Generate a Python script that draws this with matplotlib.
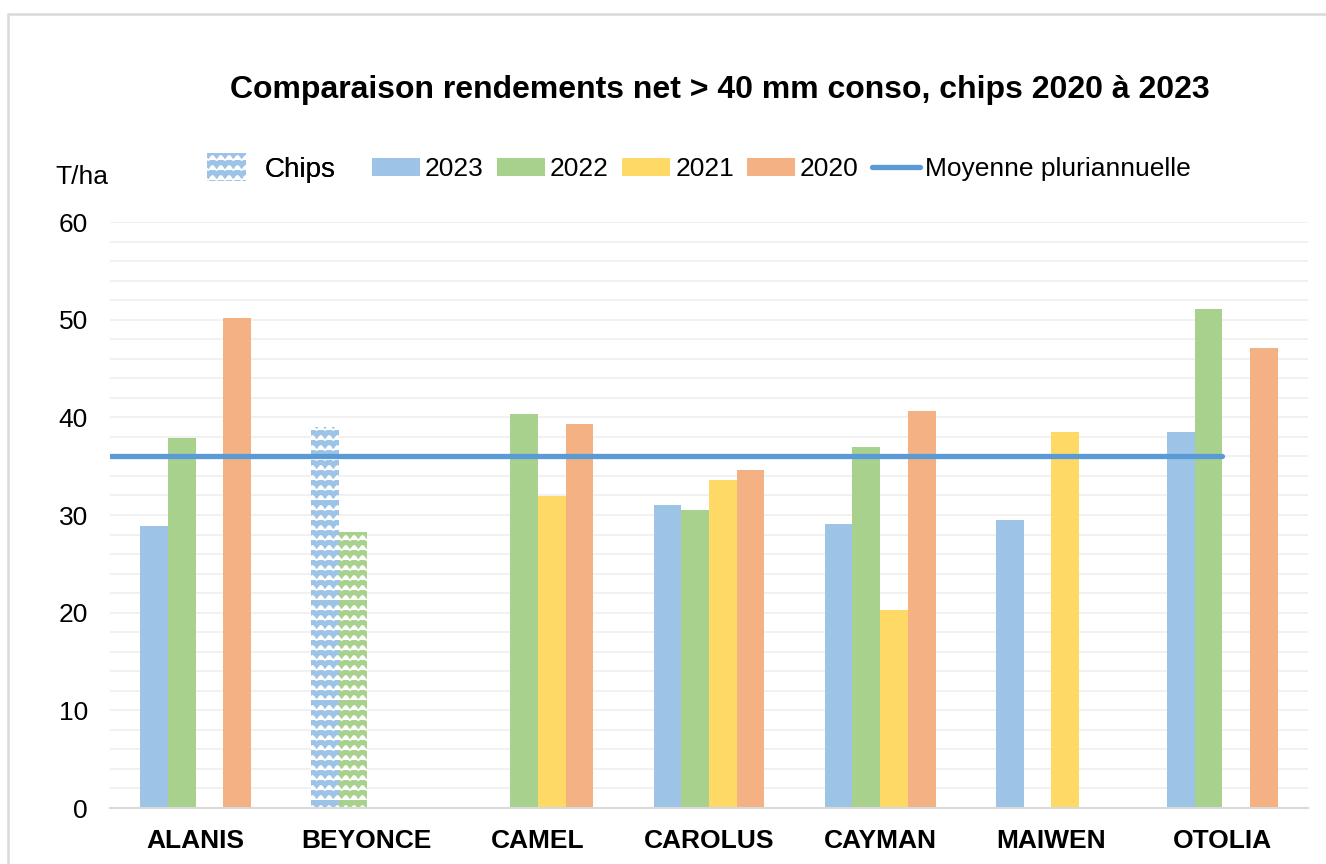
import numpy as np
import matplotlib
matplotlib.use("Agg")
import matplotlib.pyplot as plt
import matplotlib.hatch as mhatch
from matplotlib.path import Path
from matplotlib.patches import Patch, Rectangle
from matplotlib.lines import Line2D

plt.rcParams['font.family'] = ['Liberation Sans', 'DejaVu Sans']

# data (T/ha), nan = no bar
varietes = ["ALANIS", "BEYONCE", "CAMEL", "CAROLUS", "CAYMAN", "MAIWEN", "OTOLIA"]
annees = ["2023", "2022", "2021", "2020"]
r2023 = [28.9, 39.0, np.nan, 31.0, 29.1, 29.5, 38.5]
r2022 = [37.9, 28.3, 40.3, 30.5, 37.0, np.nan, 51.1]
r2021 = [np.nan, np.nan, 31.9, 33.6, 20.3, 38.5, np.nan]
r2020 = [50.2, np.nan, 39.3, 34.6, 40.6, np.nan, 47.1]
chips = ["BEYONCE"]
moyenne = 36.0

couleurs = ["#9DC3E6", "#A9D18E", "#FFD966", "#F4B183"]
c_moy = "#5B9BD5"


# wavy hatch like the excel pattern
class WaveHatch(mhatch.HatchPatternBase):
    def __init__(self, hatch, density):
        self.num_rows = hatch.count('w') * 5
        self.num_seg = 96 if self.num_rows else 0
        self.num_vertices = self.num_rows * (self.num_seg + 1)

    def set_vertices_and_codes(self, vertices, codes):
        n = self.num_seg + 1
        xs = np.linspace(0, 1, n)
        off = 0.4 / self.num_rows * 0.5 * (1 - np.cos(2 * np.pi * 12 * xs))
        for i, y in enumerate(np.linspace(0, 1, self.num_rows, endpoint=False)):
            vertices[i * n:(i + 1) * n, 0] = xs
            vertices[i * n:(i + 1) * n, 1] = y + off
            codes[i * n] = Path.MOVETO
            codes[i * n + 1:(i + 1) * n] = Path.LINETO


mhatch._hatch_types.append(WaveHatch)
plt.rcParams['hatch.linewidth'] = 1.3

W, H = 1326, 864
fig = plt.figure(figsize=(W / 100, H / 100), dpi=100)
ax = fig.add_axes([110 / W, 1 - 808 / H, (1308 - 110) / W, (808 - 222) / H])

# chart border
fig.patches.append(Rectangle((8 / W, -0.1), 1.2, 1 - 14 / H + 0.1, transform=fig.transFigure,
                             fill=False, edgecolor="#D9D9D9", linewidth=1.8, zorder=0))

x = np.arange(len(varietes))
w = 0.162
series = [r2023, r2022, r2021, r2020]
for k, vals in enumerate(series):
    pos = x + (k - 1.5) * w
    for i, v in enumerate(vals):
        if np.isnan(v):
            continue
        if varietes[i] in chips:
            ax.bar(pos[i], v, w, color=couleurs[k], edgecolor="white", linewidth=0,
                   hatch="ww", zorder=2)
        else:
            ax.bar(pos[i], v, w, color=couleurs[k], linewidth=0, zorder=2)

ax.plot([x[0] - 0.5, x[-1]], [moyenne, moyenne], color=c_moy, linewidth=3.8,
        solid_capstyle="round", zorder=3)

ax.set_xlim(-0.5, len(varietes) - 0.5)
ax.set_ylim(0, 60)
ax.set_yticks(np.arange(0, 61, 10))
ax.set_yticks(np.arange(0, 61, 2), minor=True)
ax.grid(axis="y", which="both", color="#F0F0F0", linewidth=1.3, zorder=0)
ax.set_axisbelow(True)
ax.set_xticks(x)
ax.set_xticklabels(varietes, fontsize=19, fontweight="bold")
ax.tick_params(axis="y", which="both", length=0, labelsize=19, pad=16)
ax.tick_params(axis="x", length=0, pad=15)
for s in ["top", "right", "left"]:
    ax.spines[s].set_visible(False)
ax.spines["bottom"].set_color("#D9D9D9")
ax.spines["bottom"].set_linewidth(1.5)

fig.text(720 / W, 1 - 90 / H, "Comparaison rendements net > 40 mm conso, chips 2020 à 2023",
         ha="center", va="center", fontsize=23, fontweight="bold")
fig.text(55 / W, 1 - 177 / H, "T/ha", ha="left", va="center", fontsize=19)

# legends
leg1 = fig.legend(handles=[Patch(facecolor=couleurs[0], edgecolor="white", linewidth=0, hatch="ww")],
                  labels=["Chips"], loc="center left", bbox_to_anchor=(207 / W, 1 - 168 / H),
                  frameon=False, borderpad=0, borderaxespad=0, handlelength=1.4,
                  handleheight=1.14, handletextpad=0.68,
                  prop={"family": ["Liberation Sans Narrow", "Liberation Sans"], "size": 20})
fig.add_artist(leg1)
handles = [Patch(facecolor=c, linewidth=0) for c in couleurs]
handles.append(Line2D([], [], color=c_moy, linewidth=3.8, solid_capstyle="round"))
fig.legend(handles=handles, labels=annees + ["Moyenne pluriannuelle"], loc="center left",
           bbox_to_anchor=(372 / W, 1 - 169 / H), ncol=5, frameon=False, borderpad=0,
           borderaxespad=0, handlelength=1.82, handleheight=0.68, handletextpad=0.19,
           columnspacing=0.5, fontsize=19)

fig.savefig("out.png", dpi=100)
